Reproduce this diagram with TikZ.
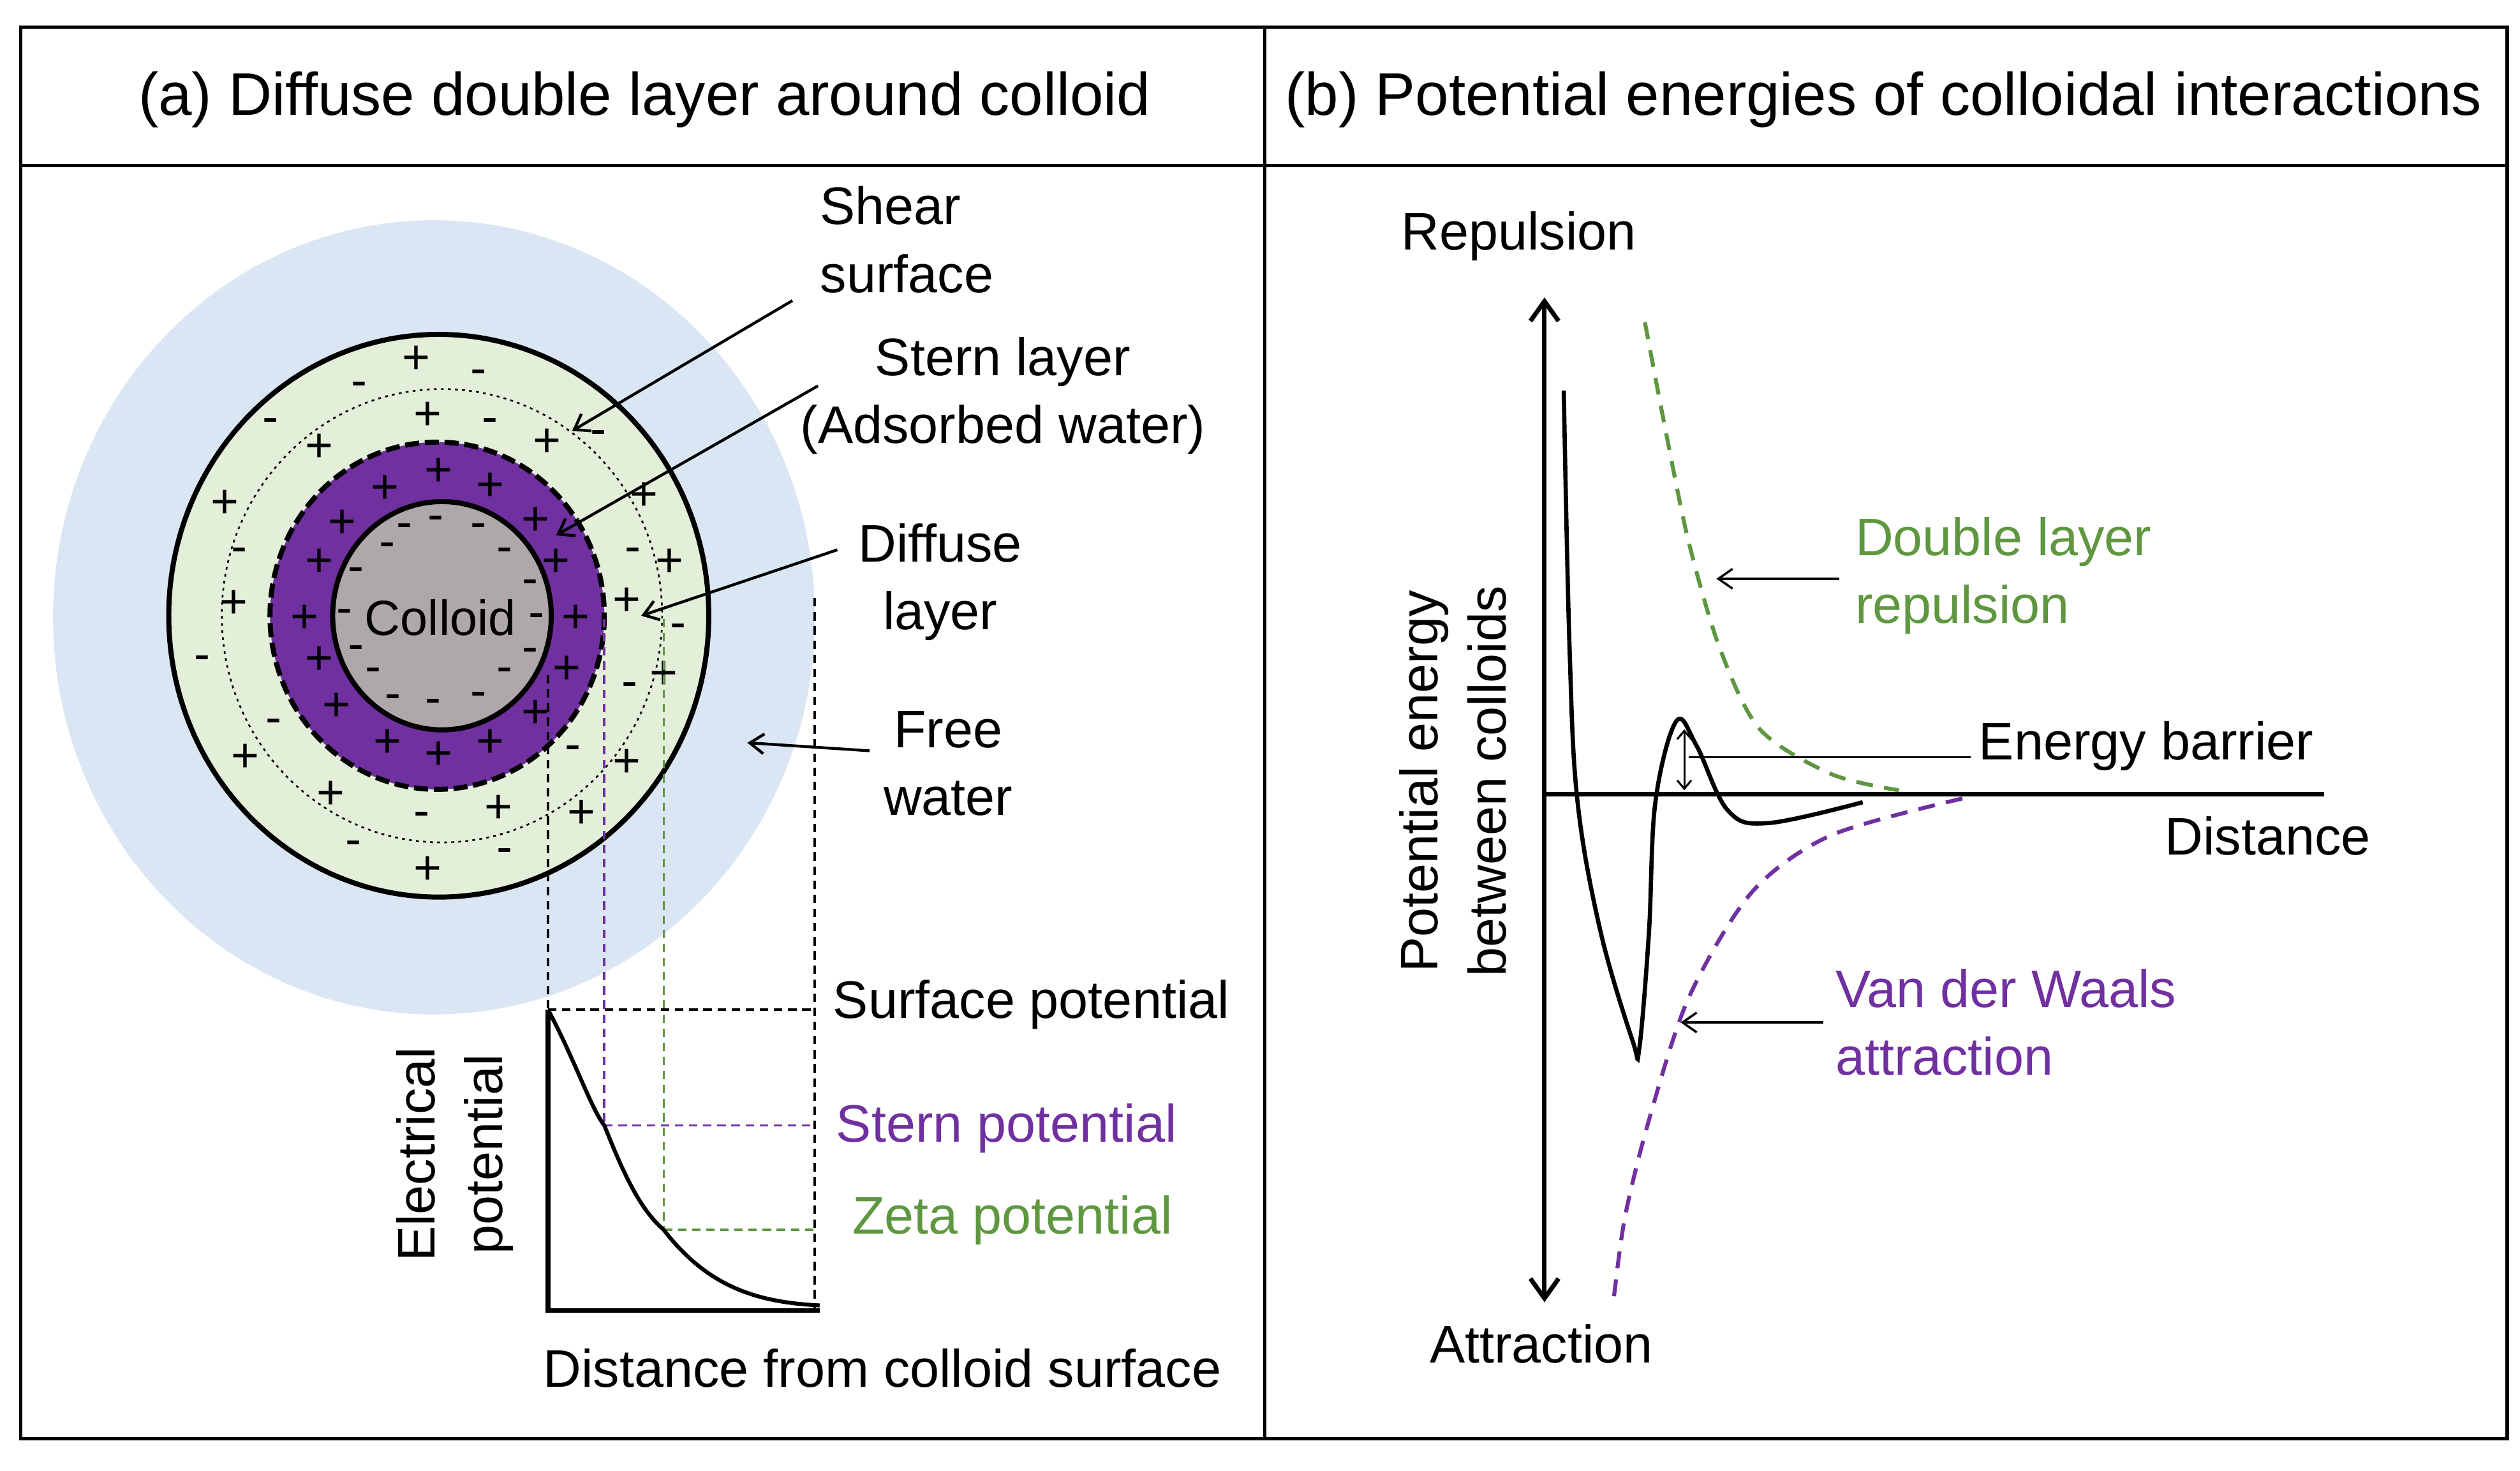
\documentclass[tikz,border=0pt]{standalone}
\usepackage{fontspec}
\setmainfont{Liberation Sans}
\usetikzlibrary{arrows.meta}
\definecolor{freew}{HTML}{DAE6F3}
\definecolor{diffg}{HTML}{E3EFD9}
\definecolor{sternp}{HTML}{7030A0}
\definecolor{colg}{HTML}{AEA8A8}
\definecolor{tgreen}{HTML}{5E9740}
\begin{document}
\begin{tikzpicture}[x=0.02cm,y=-0.02cm,
  lbl/.style={font=\fontsize{18.7}{24}\selectfont,inner sep=0pt},
  ttl/.style={font=\fontsize{21.3}{24}\selectfont,inner sep=0pt},
  chg/.style={font=\fontsize{17}{17}\selectfont,inner sep=0pt},
  ptr/.style={line width=1pt,-{Straight Barb[length=5pt,width=7pt]}},
  dl/.style={line width=0.8pt,dash pattern=on 3pt off 2pt}]
\useasboundingbox (0,0) rectangle (1568,915);
% frame
\draw[line width=1.2pt] (13,17) rectangle (1560,895);
\draw[line width=1.2pt] (787,17) -- (787,895);
\draw[line width=1.2pt] (13,103) -- (1560,103);
\node[ttl] (ta) at (401,62) {(a) Diffuse double layer around colloid};
\node[ttl] (tb) at (1172,62) {(b) Potential energies of colloidal interactions};
% circles
\fill[freew] (270,384) ellipse [x radius=237,y radius=247];
\draw[line width=1.8pt,fill=diffg] (273,383) ellipse [x radius=168,y radius=175];
\draw[line width=0.6pt,dash pattern=on 1pt off 1.5pt] (275,383) ellipse [x radius=137,y radius=141];
\draw[line width=1.8pt,dash pattern=on 5pt off 2pt,fill=sternp] (272,383) ellipse [x radius=104,y radius=108];
\draw[line width=1.8pt,fill=colg] (275,383) ellipse [x radius=68,y radius=71];
% charges
\foreach \a/\b in {770/640,675/675,860/670,600/745,940/740,560/825,975/825,535/940,1010/940,560/1025,995/1045,590/1120,940/1135,680/1195,770/1220,860/1195,
 730/410,750/525,560/590,960/580,395/705,1130/690,1175/825,410/910,1100/905,1165/1055,430/1225,1100/1235,580/1300,875/1330,1020/1340,750/1455}
  \node[chg] at ({\a/2.82},{99.2+\b/3.29}) {+};
\foreach \a/\b in {710/760,765/745,840/760,680/800,885/810,625/850,930/875,605/935,942/945,625/1010,930/1015,655/1055,885/1055,690/1110,760/1120,840/1105,
 840/445,630/470,475/545,860/545,1050/570,420/810,1110/810,1190/965,355/1030,1105/1085,480/1160,1005/1215,740/1350,620/1410,885/1425}
  \node[chg] at ({\a/2.82},{99.2+\b/3.29}) {-};
\node[lbl,font=\fontsize{17.5}{20}\selectfont] (col) at (274,384) {Colloid};
% labels with arrows
\node[lbl,anchor=west,align=left] (shear) at (510,149) {Shear\\surface};
\node[lbl,align=center] (stern) at (624,246) {Stern layer\\(Adsorbed water)};
\node[lbl,align=center] (diff) at (585,362) {Diffuse\\layer};
\node[lbl,align=center] (free) at (590,475) {Free\\water};
\coordinate (shs) at (493,187); \coordinate (she) at (356,268);
\coordinate (sts) at (509,240); \coordinate (ste) at (346,333);
\coordinate (dfs) at (521,342); \coordinate (dfe) at (399,383);
\coordinate (frs) at (541,467); \coordinate (fre) at (465,462);
\draw[ptr] (shs) -- (she);
\draw[ptr] (sts) -- (ste);
\draw[ptr] (dfs) -- (dfe);
\draw[ptr] (frs) -- (fre);
% potential graph
\coordinate (o) at (341,815); \coordinate (ya) at (341,628); \coordinate (xa) at (510,815);
\coordinate (sp) at (376,700); \coordinate (zp) at (413,765);
\draw[dl] (341,420) -- (ya);
\draw[dl,sternp] (376,385) -- (sp);
\draw[dl,tgreen] (413,385) -- (zp);
\draw[dl] (507,372) -- (507,815);
\draw[dl] (ya) -- (507,628);
\draw[dl,sternp] (sp) -- (507,700);
\draw[dl,tgreen] (zp) -- (507,765);
\draw[line width=1.6pt] (ya) -- (o) -- (xa);
\draw[line width=1.4pt] (ya) .. controls (358,660) and (368,690) .. (sp) .. controls (388,730) and (398,752) .. (zp) .. controls (440,800) and (470,810) .. (510,812);
\node[lbl,anchor=west] (spl) at (518,625) {Surface potential};
\node[lbl,anchor=west,text=sternp] (stl) at (520,702) {Stern potential};
\node[lbl,anchor=west,text=tgreen] (zpl) at (530,759) {Zeta potential};
\node[lbl,rotate=90,align=center] (ep) at (283,718) {Electrical\\potential};
\node[lbl] (dfc) at (549,851) {Distance from colloid surface};
% panel b
\coordinate (top) at (961,185); \coordinate (bot) at (961,810);
\coordinate (x0) at (961,494); \coordinate (x1) at (1446,494);
\draw[line width=1.6pt,{Straight Barb[length=7pt,width=10pt]}-{Straight Barb[length=7pt,width=10pt]}] (top) -- (bot);
\draw[line width=1.6pt] (x0) -- (x1);
\node[lbl] (rep) at (945,147) {Repulsion};
\node[lbl] (att) at (959,836) {Attraction};
\node[lbl] (dist) at (1411,520) {Distance};
\node[lbl,rotate=90,align=center] (pe) at (904,486) {Potential energy\\between colloids};
\draw[line width=1.5pt] plot[smooth,tension=0.6] coordinates {(973,243) (976.6,403) (981.6,499) (996,580) (1016,648) (1020,652) (1026,580) (1030,499) (1043,448.6) (1055.6,463.8) (1075,504) (1100,512) (1159,499)};
\draw[line width=1.4pt,tgreen,dash pattern=on 6pt off 4pt] plot[smooth] coordinates {(1023.5,200.5) (1036,266) (1050.7,337) (1070,403) (1095,453.6) (1139.5,481.5) (1181.5,491.6)};
\draw[line width=1.4pt,sternp,dash pattern=on 6pt off 4pt] plot[smooth] coordinates {(1221,496.7) (1139.5,519.5) (1090,555) (1050.7,620.7) (1026,696.7) (1011,757.4) (1003.8,810.6)};
\node[lbl,anchor=west,align=left,text=tgreen] (dlr) at (1154,358) {Double layer\\repulsion};
\node[lbl,anchor=west] (eb) at (1231,464) {Energy barrier};
\node[lbl,anchor=west,align=left,text=sternp] (vdw) at (1142,636) {Van der Waals\\attraction};
\coordinate (dls) at (1144.5,360); \coordinate (dle) at (1068,360);
\coordinate (ebs) at (1226,471); \coordinate (ebe) at (1050.7,471);
\coordinate (vds) at (1134.6,636); \coordinate (vde) at (1045.7,636);
\draw[ptr,line width=0.8pt] (dls) -- (dle);
\draw[line width=0.8pt] (ebs) -- (ebe);
\draw[ptr,line width=0.8pt] (vds) -- (vde);
\coordinate (b1) at (1048,453.6); \coordinate (b2) at (1048,491.6);
\draw[line width=0.7pt,{Straight Barb[length=3pt,width=5pt]}-{Straight Barb[length=3pt,width=5pt]}] (b1) -- (b2);
\end{tikzpicture}
\end{document}
